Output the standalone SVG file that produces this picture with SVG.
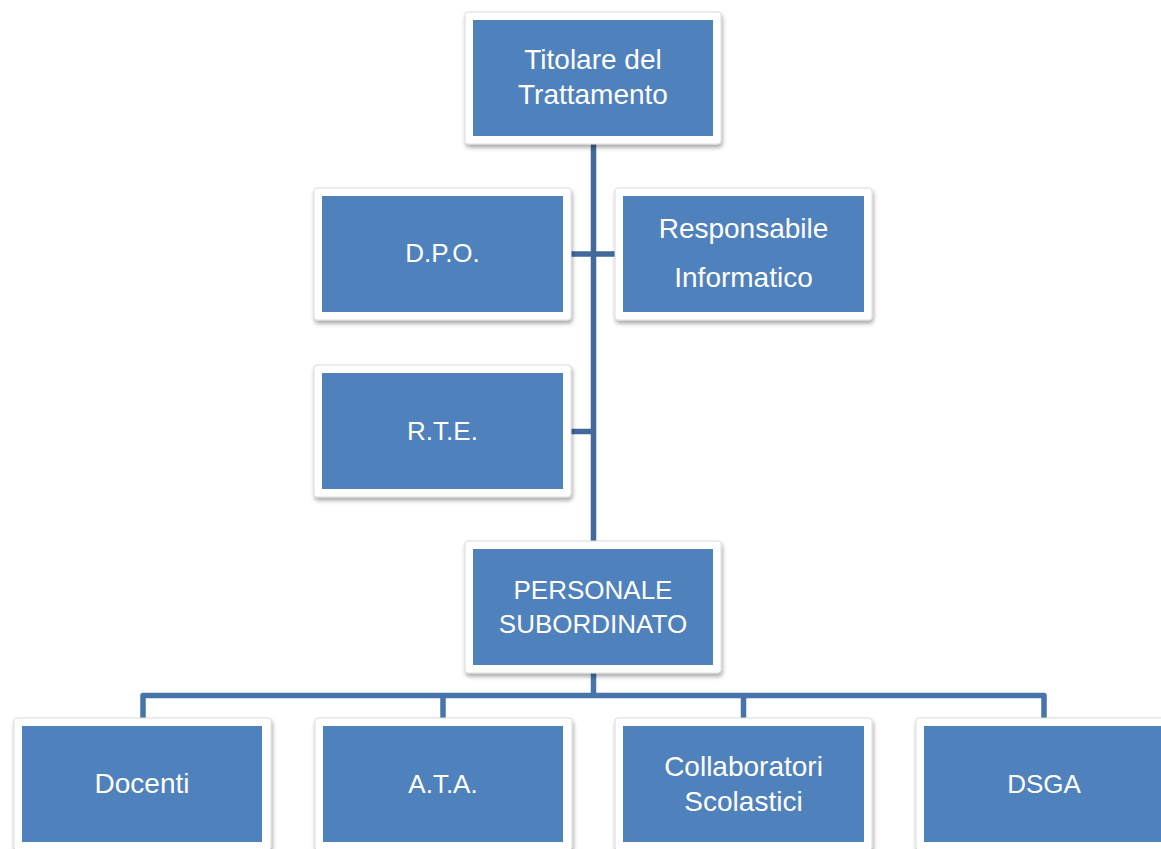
<svg xmlns="http://www.w3.org/2000/svg" width="1161" height="849" viewBox="0 0 1161 849">
  <defs>
    <filter id="sh" x="-10%" y="-10%" width="120%" height="130%">
      <feDropShadow dx="1" dy="3" stdDeviation="2" flood-color="#000" flood-opacity="0.35"/>
    </filter>
  </defs>
  <style>
    .frame { fill: #ffffff; stroke: #dcdcdc; stroke-width: 1; filter: url(#sh); }
    .box { fill: #4f81bd; }
    .t { font-family: "Liberation Sans", Arial, sans-serif; font-size: 28px; fill: #ffffff; text-anchor: middle; }
    .c { font-size: 26px; }
    .trunk { fill: none; stroke: #41699b; stroke-width: 5.5; }
    .branch { fill: none; stroke: #4774aa; stroke-width: 5.5; stroke-linejoin: round; }
  </style>
  <rect width="1161" height="849" fill="#ffffff"/>

  <g id="connectors">
    <line class="trunk" x1="593.5" y1="144" x2="593.5" y2="541"/>
    <line class="trunk" x1="571" y1="254" x2="615" y2="254"/>
    <line class="trunk" x1="571" y1="431.5" x2="593.5" y2="431.5"/>
    <line class="branch" x1="593.5" y1="673" x2="593.5" y2="695.5"/>
    <path class="branch" d="M143 718 V695.5 H1044 V718"/>
    <line class="branch" x1="443" y1="695.5" x2="443" y2="718"/>
    <line class="branch" x1="743.5" y1="695.5" x2="743.5" y2="718"/>
  </g>

  <g id="titolare">
    <rect class="frame" x="465" y="12" width="256" height="132" rx="3"/>
    <rect class="box" x="473" y="20" width="240" height="116"/>
    <text class="t" x="593" y="69">Titolare del</text>
    <text class="t" x="593" y="104">Trattamento</text>
  </g>

  <g id="dpo">
    <rect class="frame" x="314" y="188" width="257" height="132" rx="3"/>
    <rect class="box" x="322" y="196" width="241" height="116"/>
    <text class="t c" x="442.5" y="262">D.P.O.</text>
  </g>

  <g id="responsabile">
    <rect class="frame" x="615" y="188" width="257" height="132" rx="3"/>
    <rect class="box" x="623" y="196" width="241" height="116"/>
    <text class="t" x="743.5" y="238">Responsabile</text>
    <text class="t" x="743.5" y="287">Informatico</text>
  </g>

  <g id="rte">
    <rect class="frame" x="314" y="365" width="257" height="132" rx="3"/>
    <rect class="box" x="322" y="373" width="241" height="116"/>
    <text class="t c" x="442.5" y="440">R.T.E.</text>
  </g>

  <g id="personale">
    <rect class="frame" x="465" y="541" width="256" height="132" rx="3"/>
    <rect class="box" x="473" y="549" width="240" height="116"/>
    <text class="t c" x="593" y="599">PERSONALE</text>
    <text class="t c" x="593" y="633">SUBORDINATO</text>
  </g>

  <g id="docenti">
    <rect class="frame" x="14" y="718" width="257" height="132" rx="3"/>
    <rect class="box" x="22" y="726" width="240" height="116"/>
    <text class="t" x="142" y="793">Docenti</text>
  </g>

  <g id="ata">
    <rect class="frame" x="315" y="718" width="257" height="132" rx="3"/>
    <rect class="box" x="323" y="726" width="240" height="116"/>
    <text class="t c" x="443" y="793">A.T.A.</text>
  </g>

  <g id="collaboratori">
    <rect class="frame" x="615" y="718" width="257" height="132" rx="3"/>
    <rect class="box" x="623" y="726" width="241" height="116"/>
    <text class="t" x="743.5" y="776">Collaboratori</text>
    <text class="t" x="743.5" y="811">Scolastici</text>
  </g>

  <g id="dsga">
    <rect class="frame" x="916" y="718" width="257" height="132" rx="3"/>
    <rect class="box" x="924" y="726" width="241" height="116"/>
    <text class="t c" x="1044" y="793">DSGA</text>
  </g>
</svg>
